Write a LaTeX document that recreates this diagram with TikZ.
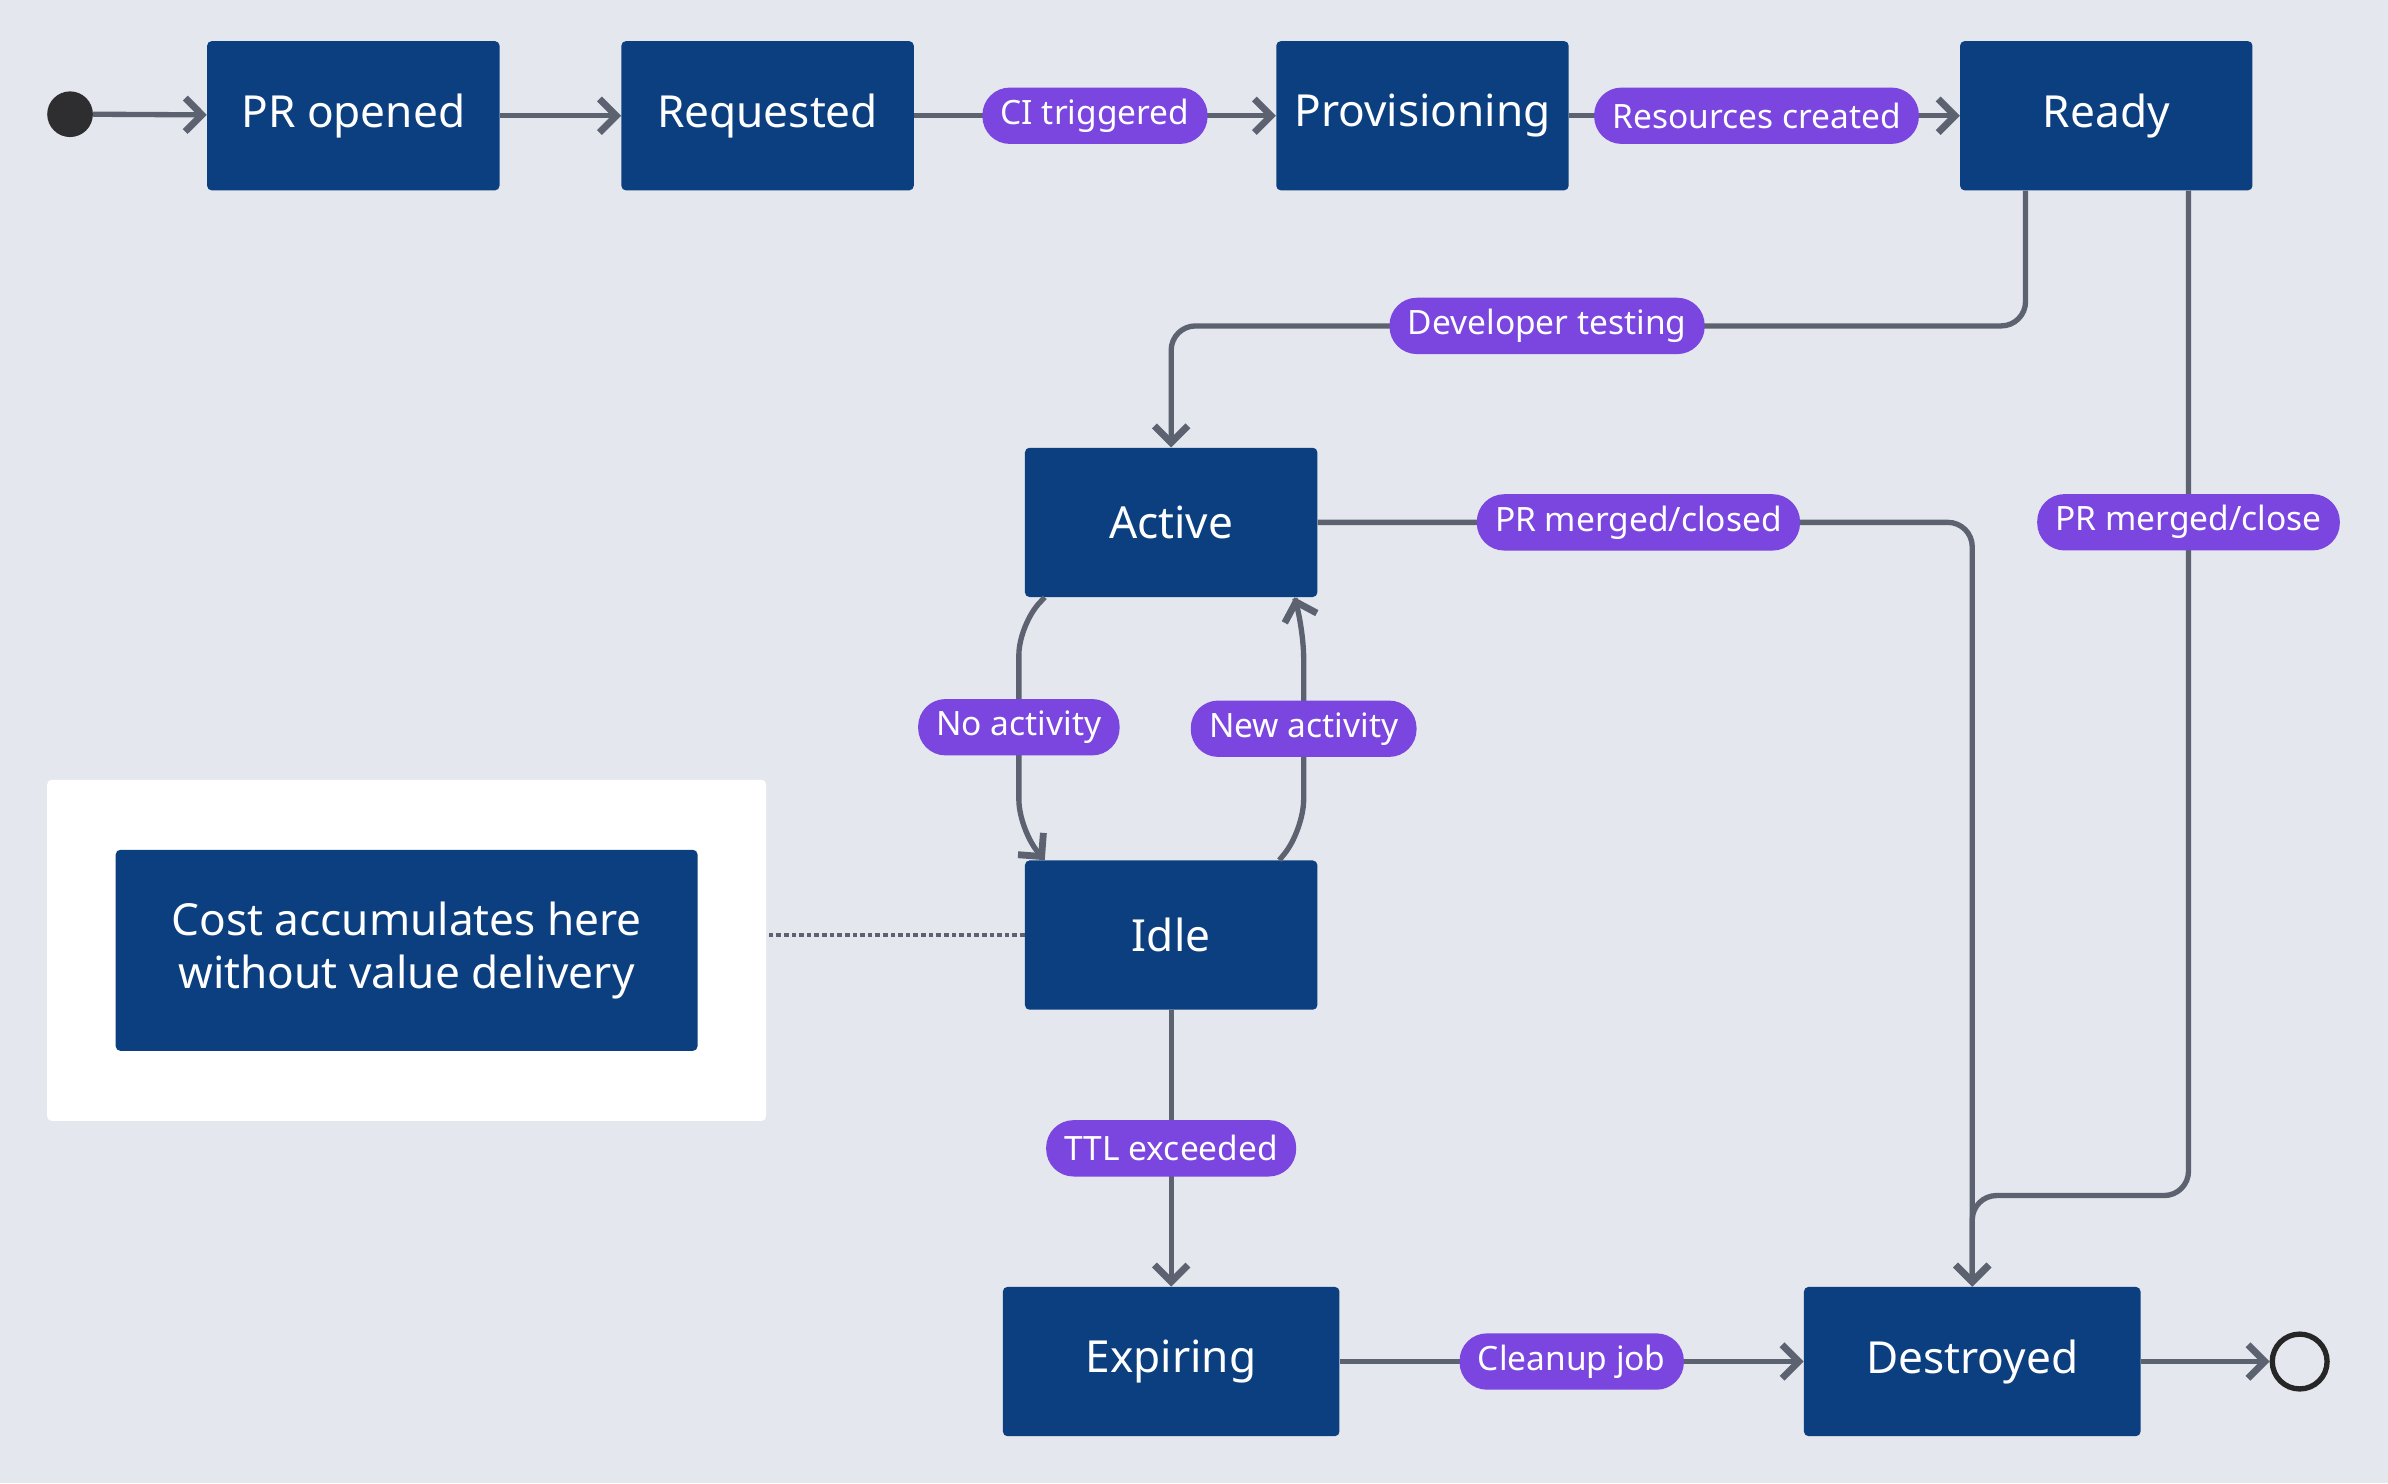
\documentclass[tikz,border=0pt]{standalone}
\usepackage{fontspec}
\setmainfont{Noto Sans}
\usetikzlibrary{arrows.meta}
\definecolor{bg}{HTML}{E4E7EE}
\definecolor{nodeblue}{HTML}{0B3F7F}
\definecolor{pillp}{HTML}{7B45E0}
\definecolor{edge}{HTML}{5C6270}
\begin{document}
\begin{tikzpicture}[x=1pt,y=-1pt,
  st/.style={draw=none,fill=nodeblue,text=white,rounded corners=3pt,minimum width=192pt,minimum height=98pt,font=\fontsize{29}{35}\selectfont,inner sep=0pt},
  pill/.style={rectangle,rounded corners=18pt,fill=pillp,text=white,font=\fontsize{22}{26}\selectfont,inner xsep=12pt,minimum height=37pt,inner ysep=0pt},
  ln/.style={draw=edge,line width=3.5pt,-{Straight Barb[length=11pt,width=22pt,line width=4.5pt]},rounded corners=16pt}]
\fill[bg] (0,0) rectangle (1568,974);
\useasboundingbox (0,0) rectangle (1568,974);
\fill[white,rounded corners=3pt] (31,512) rectangle (503,736);
\node[st,minimum width=382pt,minimum height=132pt,align=center] (cost) at (267,624) {Cost accumulates here\\without value delivery};
\coordinate (panel) at (503,614);

\fill[black!80!bg] (46,75) circle (15) coordinate (start);
\node[st] (pr) at (232,76) {PR opened};
\node[st] (req) at (504,76) {Requested};
\node[st] (prov) at (934,76) {Provisioning};
\node[st] (ready) at (1383,76) {Ready};
\node[st] (act) at (769,343) {Active};
\node[st] (idle) at (769,614) {Idle};
\node[st,minimum width=221pt] (exp) at (769,894) {Expiring};
\node[st,minimum width=221pt] (des) at (1295,894) {Destroyed};
\node[circle,draw=black!85,line width=3.5pt,minimum size=36pt,inner sep=0pt] (end) at (1510,894) {};

\draw[ln] (61,75) -- (pr);
\draw[ln] (pr) -- (req);
\draw[ln] (req) -- node[pill]{CI triggered} (prov);
\draw[ln] (prov) -- node[pill,pos=0.48]{Resources created} (ready);
\draw[ln] ([xshift=-53pt]ready.south) -- (1330,214) -- node[pill,pos=0.56]{Developer testing} (769,214) -- (act.north);
\draw[ln] ([xshift=54pt]ready.south) -- node[pill,pos=0.33]{PR merged/close} (1437,785) -- (1295,785) -- (des.north);
\draw[ln] (act.east) -- node[pill,pos=0.49]{PR merged/closed} (1295,343) -- (des.north);
\draw[ln,rounded corners=20pt] ([xshift=-83pt]act.south) -- (669,410) -- node[pill]{No activity} (669,545) -- ([xshift=-83pt]idle.north);
\draw[ln,rounded corners=20pt] ([xshift=71pt]idle.north) -- (856,545) -- node[pill]{New activity} (856,412) -- ([xshift=81pt]act.south);
\draw[edge,line width=3pt,dotted] (idle.west) -- (panel);
\draw[ln] (idle) -- node[pill]{TTL exceeded} (exp);
\draw[ln] (exp) -- node[pill]{Cleanup job} (des);
\draw[ln] (des) -- (end);
\end{tikzpicture}
\end{document}
